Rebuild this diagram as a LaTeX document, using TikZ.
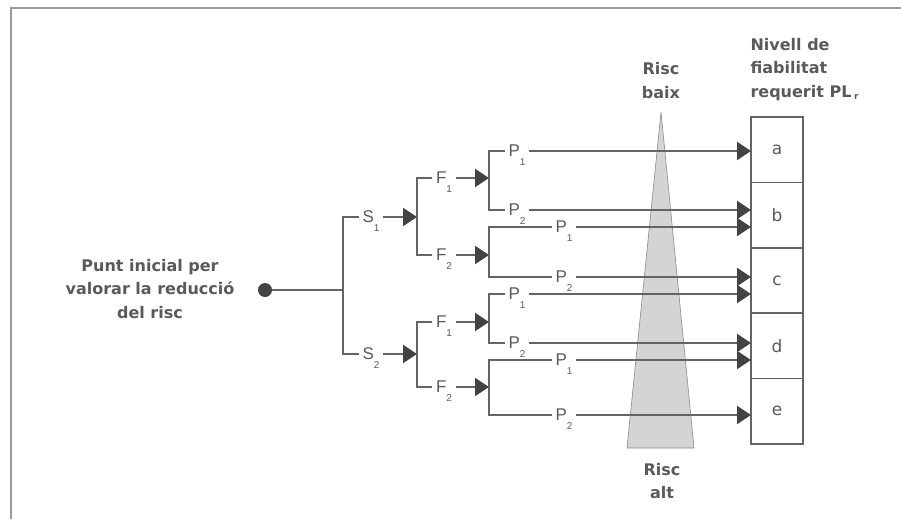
\documentclass[tikz,border=0pt]{standalone}
\usepackage{fontspec}
\setmainfont{DejaVu Sans}
\newfontfamily\lblfont{Liberation Sans}
\usetikzlibrary{arrows.meta}
\definecolor{txt}{HTML}{5A5A5A}
\definecolor{ln}{HTML}{646464}
\definecolor{hd}{HTML}{434343}
\definecolor{tri}{HTML}{D4D4D4}
\definecolor{triedge}{HTML}{8A8A8A}
\definecolor{frm}{HTML}{9A9A9A}
\newcommand{\lab}[2]{#1\raisebox{-0.5em}[0pt][0pt]{\fontsize{10}{10}\selectfont #2}}
\begin{document}
\begin{tikzpicture}[x=1pt,y=-1pt,
  wire/.style={draw=ln, line width=2pt},
  arr/.style={wire, -{Triangle[length=14pt,width=18pt,color=hd]}},
  lbl/.style={font=\lblfont\fontsize{17}{17}\selectfont, text=txt, inner xsep=3.5pt, inner ysep=0pt},
  big/.style={font=\bfseries\fontsize{16}{23.5}\selectfont, text=txt},
  lvl/.style={draw=ln, line width=1.6pt, minimum width=52pt, minimum height=65.4pt, inner sep=0pt, outer sep=0pt, anchor=north west, font=\fontsize{17}{17}\selectfont, text=txt},
  dotnode/.style={circle, fill=hd, inner sep=0pt, minimum size=14pt}]
\useasboundingbox (0,0) rectangle (901,519);
% frame
\draw[frm, line width=2.5pt] (11,519) -- (11,8) -- (901,8);
% risk triangle
\draw[fill=tri, draw=triedge, line width=0.6pt] (627,448) -- (694,448) -- (661,112) -- cycle;
\node[big, align=center] (baix) at (661,80.5) {Risc\\baix};
\node[big, align=center] (alt) at (662,481) {Risc\\alt};
% level boxes
\node[lvl] (a) at (751,117) {a};
\node[lvl] (b) at (a.south west) {b};
\node[lvl] (c) at (b.south west) {c};
\node[lvl] (d) at (c.south west) {d};
\node[lvl] (e) at (d.south west) {e};
\node[big, align=left, anchor=west] (niv) at (747,69.5) {Nivell de\\fiabilitat\\requerit PL\,\raisebox{-0.2ex}{\fontsize{9}{9}\selectfont r}};
% start
\node[big, align=center] (ptxt) at (150,289) {Punt inicial per\\valorar la reducció\\del risc};
\node[dotnode] (start) at (265,290) {};
\coordinate (sx) at (343,290);
\coordinate (fx) at (417,290);
\coordinate (px) at (489,290);
\draw[wire] (start) -- (sx);
% S level
\node[lbl] (S1) at (371,217) {\lab{S}{1}};
\node[lbl] (S2) at (371,354) {\lab{S}{2}};
\draw[wire] (S1.west) -- (S1.west -| sx) -- (S2.west -| sx) -- (S2.west);
% F level
\node[lbl] (F11) at (444,178) {\lab{F}{1}};
\node[lbl] (F12) at (444,255) {\lab{F}{2}};
\node[lbl] (F21) at (444,322) {\lab{F}{1}};
\node[lbl] (F22) at (444,387) {\lab{F}{2}};
\draw[arr] (S1.east) -- (S1.east -| fx);
\draw[arr] (S2.east) -- (S2.east -| fx);
\draw[wire] (F11.west) -- (F11.west -| fx) -- (F12.west -| fx) -- (F12.west);
\draw[wire] (F21.west) -- (F21.west -| fx) -- (F22.west -| fx) -- (F22.west);
% P level
\node[lbl] (P111) at (517,151) {\lab{P}{1}};
\node[lbl] (P112) at (517,210) {\lab{P}{2}};
\node[lbl] (P121) at (564,227) {\lab{P}{1}};
\node[lbl] (P122) at (564,277) {\lab{P}{2}};
\node[lbl] (P211) at (517,294) {\lab{P}{1}};
\node[lbl] (P212) at (517,343) {\lab{P}{2}};
\node[lbl] (P221) at (564,360) {\lab{P}{1}};
\node[lbl] (P222) at (564,415) {\lab{P}{2}};
\draw[arr] (F11.east) -- (F11.east -| px);
\draw[arr] (F12.east) -- (F12.east -| px);
\draw[arr] (F21.east) -- (F21.east -| px);
\draw[arr] (F22.east) -- (F22.east -| px);
\draw[wire] (P111.west) -- (P111.west -| px) -- (P112.west -| px) -- (P112.west);
\draw[wire] (P121.west) -- (P121.west -| px) -- (P122.west -| px) -- (P122.west);
\draw[wire] (P211.west) -- (P211.west -| px) -- (P212.west -| px) -- (P212.west);
\draw[wire] (P221.west) -- (P221.west -| px) -- (P222.west -| px) -- (P222.west);
% arrows to levels
\draw[arr] (P111.east) -- (P111.east -| a.west);
\draw[arr] (P112.east) -- (P112.east -| b.west);
\draw[arr] (P121.east) -- (P121.east -| b.west);
\draw[arr] (P122.east) -- (P122.east -| c.west);
\draw[arr] (P211.east) -- (P211.east -| c.west);
\draw[arr] (P212.east) -- (P212.east -| d.west);
\draw[arr] (P221.east) -- (P221.east -| d.west);
\draw[arr] (P222.east) -- (P222.east -| e.west);
\end{tikzpicture}
\end{document}
